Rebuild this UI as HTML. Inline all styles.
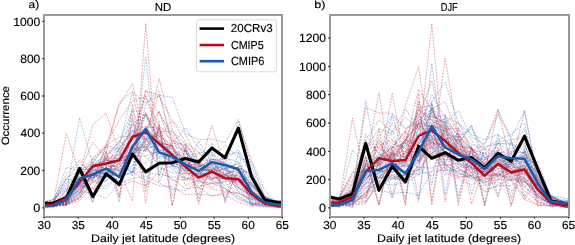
<!DOCTYPE html>
<html><head><meta charset="utf-8"><style>
html,body{margin:0;padding:0;background:#fff;}
svg{display:block;will-change:transform;}
.t{font-family:"Liberation Sans",sans-serif;font-size:11.2px;fill:#000;text-rendering:geometricPrecision;stroke:#000;stroke-width:0.15px;}
</style></head><body>
<svg width="575" height="245" viewBox="0 0 575 245">
<rect width="575" height="245" fill="#fff"/>
<clipPath id="clipa"><rect x="44.2" y="14.7" width="238.1" height="202.2"/></clipPath>
<g clip-path="url(#clipa)">
<polyline points="39.9,206.3 53.1,205.8 66.4,203.0 79.6,184.4 92.8,178.0 106.1,171.7 119.3,167.4 132.5,150.6 145.7,142.9 159.0,136.1 172.2,145.1 185.4,151.2 198.6,166.9 211.9,159.7 225.1,158.8 238.4,150.0 251.5,173.4 264.7,197.6 278.0,204.3 291.2,204.4" fill="none" stroke="#2a6fc0" stroke-width="0.9" stroke-opacity="0.42" stroke-dasharray="2.2 1"/>
<polyline points="39.9,206.3 53.1,206.3 66.4,204.8 79.6,193.1 92.8,174.7 106.1,181.3 119.3,164.7 132.5,157.3 145.7,138.8 159.0,131.8 172.2,131.3 185.4,150.0 198.6,172.2 211.9,169.0 225.1,164.7 238.4,167.9 251.5,186.0 264.7,196.5 278.0,203.7 291.2,204.8" fill="none" stroke="#2a6fc0" stroke-width="0.9" stroke-opacity="0.42" stroke-dasharray="2.2 1"/>
<polyline points="39.9,204.5 53.1,203.7 66.4,198.3 79.6,183.4 92.8,170.2 106.1,174.0 119.3,156.1 132.5,156.2 145.7,126.7 159.0,144.0 172.2,145.4 185.4,166.7 198.6,180.8 211.9,171.1 225.1,180.6 238.4,180.4 251.5,192.8 264.7,202.8 278.0,205.9 291.2,206.2" fill="none" stroke="#c42a40" stroke-width="0.9" stroke-opacity="0.42" stroke-dasharray="2.2 1"/>
<polyline points="39.9,204.5 53.1,205.0 66.4,196.7 79.6,184.1 92.8,171.1 106.1,169.0 119.3,164.5 132.5,134.6 145.7,139.0 159.0,133.6 172.2,150.9 185.4,157.4 198.6,173.3 211.9,174.4 225.1,185.8 238.4,179.0 251.5,190.5 264.7,202.1 278.0,205.5 291.2,206.2" fill="none" stroke="#c42a40" stroke-width="0.9" stroke-opacity="0.42" stroke-dasharray="2.2 1"/>
<polyline points="39.9,204.7 53.1,202.2 66.4,196.2 79.6,185.3 92.8,188.3 106.1,185.2 119.3,176.9 132.5,171.8 145.7,180.6 159.0,185.7 172.2,186.9 185.4,194.7 198.6,193.7 211.9,195.6 225.1,194.7 238.4,202.3 251.5,205.9 264.7,207.0 278.0,207.0 291.2,206.8" fill="none" stroke="#c42a40" stroke-width="0.9" stroke-opacity="0.42" stroke-dasharray="2.2 1"/>
<polyline points="39.9,207.4 53.1,205.3 66.4,205.4 79.6,172.3 92.8,202.4 106.1,157.4 119.3,201.9 132.5,119.2 145.7,187.0 159.0,126.0 172.2,196.3 185.4,149.1 198.6,197.6 211.9,143.2 225.1,201.4 238.4,152.0 251.5,203.5 264.7,200.9 278.0,207.1 291.2,204.3" fill="none" stroke="#2a6fc0" stroke-width="0.9" stroke-opacity="0.42" stroke-dasharray="2.2 1"/>
<polyline points="39.9,206.9 53.1,204.2 66.4,196.1 79.6,191.6 92.8,192.7 106.1,198.4 119.3,183.1 132.5,178.7 145.7,176.1 159.0,182.9 172.2,189.6 185.4,190.5 198.6,181.2 211.9,183.1 225.1,188.7 238.4,198.4 251.5,204.9 264.7,206.3 278.0,206.4 291.2,206.6" fill="none" stroke="#2a6fc0" stroke-width="0.9" stroke-opacity="0.42" stroke-dasharray="2.2 1"/>
<polyline points="39.9,202.6 53.1,199.7 66.4,187.1 79.6,171.5 92.8,158.4 106.1,143.9 119.3,120.1 132.5,101.0 145.7,96.2 159.0,126.8 172.2,134.3 185.4,157.4 198.6,164.7 211.9,167.7 225.1,174.9 238.4,175.5 251.5,194.5 264.7,203.4 278.0,205.0 291.2,205.3" fill="none" stroke="#c42a40" stroke-width="0.9" stroke-opacity="0.42" stroke-dasharray="2.2 1"/>
<polyline points="39.9,205.3 53.1,203.8 66.4,204.2 79.6,198.2 92.8,181.9 106.1,174.0 119.3,157.0 132.5,158.3 145.7,89.5 159.0,114.8 172.2,131.5 185.4,143.9 198.6,160.0 211.9,174.2 225.1,168.2 238.4,167.6 251.5,174.2 264.7,198.1 278.0,202.1 291.2,204.9" fill="none" stroke="#c42a40" stroke-width="0.9" stroke-opacity="0.42" stroke-dasharray="2.2 1"/>
<polyline points="39.9,206.2 53.1,205.8 66.4,202.8 79.6,173.4 92.8,178.5 106.1,167.2 119.3,183.0 132.5,154.6 145.7,138.3 159.0,156.3 172.2,156.5 185.4,165.2 198.6,179.6 211.9,169.4 225.1,165.8 238.4,170.1 251.5,192.6 264.7,202.4 278.0,205.0 291.2,205.7" fill="none" stroke="#2a6fc0" stroke-width="0.9" stroke-opacity="0.42" stroke-dasharray="2.2 1"/>
<polyline points="39.9,206.1 53.1,206.5 66.4,205.2 79.6,200.7 92.8,186.8 106.1,173.7 119.3,186.5 132.5,181.2 145.7,185.8 159.0,171.9 172.2,178.9 185.4,188.9 198.6,186.8 211.9,196.5 225.1,192.2 238.4,193.4 251.5,199.0 264.7,201.8 278.0,205.8 291.2,207.1" fill="none" stroke="#c42a40" stroke-width="0.9" stroke-opacity="0.42" stroke-dasharray="2.2 1"/>
<polyline points="39.9,205.5 53.1,203.5 66.4,196.9 79.6,185.8 92.8,175.2 106.1,167.8 119.3,170.2 132.5,156.0 145.7,141.2 159.0,131.9 172.2,166.5 185.4,177.1 198.6,186.2 211.9,183.6 225.1,181.2 238.4,182.3 251.5,197.2 264.7,204.3 278.0,206.3 291.2,206.3" fill="none" stroke="#c42a40" stroke-width="0.9" stroke-opacity="0.42" stroke-dasharray="2.2 1"/>
<polyline points="39.9,206.4 53.1,202.5 66.4,182.4 79.6,171.8 92.8,171.8 106.1,159.6 119.3,161.4 132.5,139.1 145.7,147.6 159.0,158.2 172.2,158.8 185.4,149.6 198.6,164.8 211.9,167.1 225.1,168.0 238.4,179.6 251.5,199.0 264.7,203.3 278.0,204.3 291.2,204.6" fill="none" stroke="#2a6fc0" stroke-width="0.9" stroke-opacity="0.42" stroke-dasharray="2.2 1"/>
<polyline points="39.9,206.3 53.1,203.0 66.4,189.7 79.6,179.1 92.8,174.6 106.1,178.3 119.3,147.9 132.5,130.4 145.7,138.8 159.0,160.2 172.2,169.0 185.4,179.3 198.6,170.9 211.9,178.7 225.1,174.6 238.4,184.1 251.5,197.6 264.7,203.9 278.0,205.5 291.2,205.1" fill="none" stroke="#2a6fc0" stroke-width="0.9" stroke-opacity="0.42" stroke-dasharray="2.2 1"/>
<polyline points="39.9,206.6 53.1,206.6 66.4,203.4 79.6,189.0 92.8,182.8 106.1,170.3 119.3,176.8 132.5,172.4 145.7,133.7 159.0,157.2 172.2,155.2 185.4,170.5 198.6,171.3 211.9,179.0 225.1,174.7 238.4,167.4 251.5,183.7 264.7,198.6 278.0,204.5 291.2,205.2" fill="none" stroke="#2a6fc0" stroke-width="0.9" stroke-opacity="0.42" stroke-dasharray="2.2 1"/>
<polyline points="39.9,205.2 53.1,204.5 66.4,201.8 79.6,193.9 92.8,172.7 106.1,173.2 119.3,181.6 132.5,148.6 145.7,147.3 159.0,127.7 172.2,159.1 185.4,171.5 198.6,166.2 211.9,182.4 225.1,176.7 238.4,174.9 251.5,187.4 264.7,199.2 278.0,204.9 291.2,205.9" fill="none" stroke="#c42a40" stroke-width="0.9" stroke-opacity="0.42" stroke-dasharray="2.2 1"/>
<polyline points="39.9,203.5 53.1,199.9 66.4,188.7 79.6,176.8 92.8,161.9 106.1,145.5 119.3,136.9 132.5,135.9 145.7,114.4 159.0,129.9 172.2,149.4 185.4,164.9 198.6,164.3 211.9,169.5 225.1,172.2 238.4,188.2 251.5,196.3 264.7,204.5 278.0,205.1 291.2,206.4" fill="none" stroke="#c42a40" stroke-width="0.9" stroke-opacity="0.42" stroke-dasharray="2.2 1"/>
<polyline points="39.9,207.1 53.1,202.7 66.4,205.0 79.6,171.5 92.8,202.2 106.1,151.4 119.3,197.3 132.5,115.4 145.7,203.2 159.0,121.2 172.2,205.4 185.4,147.8 198.6,200.9 211.9,163.4 225.1,199.1 238.4,171.2 251.5,205.9 264.7,201.8 278.0,207.5 291.2,205.1" fill="none" stroke="#c42a40" stroke-width="0.9" stroke-opacity="0.42" stroke-dasharray="2.2 1"/>
<polyline points="39.9,207.8 53.1,205.6 66.4,196.6 79.6,179.8 92.8,166.8 106.1,151.9 119.3,102.1 132.5,91.9 145.7,151.9 159.0,110.9 172.2,148.2 185.4,161.2 198.6,170.5 211.9,163.1 225.1,174.2 238.4,170.5 251.5,192.9 264.7,204.1 278.0,206.9 291.2,207.8" fill="none" stroke="#c42a40" stroke-width="0.9" stroke-opacity="0.42" stroke-dasharray="2.2 1"/>
<polyline points="39.9,205.0 53.1,202.1 66.4,178.7 79.6,163.2 92.8,174.0 106.1,167.6 119.3,142.2 132.5,110.0 145.7,115.5 159.0,138.5 172.2,165.2 185.4,162.7 198.6,152.2 211.9,152.8 225.1,167.5 238.4,187.4 251.5,197.3 264.7,203.2 278.0,204.3 291.2,205.1" fill="none" stroke="#2a6fc0" stroke-width="0.9" stroke-opacity="0.42" stroke-dasharray="2.2 1"/>
<polyline points="39.9,207.8 53.1,205.9 66.4,196.6 79.6,170.5 92.8,163.1 106.1,146.3 119.3,151.9 132.5,176.1 145.7,56.8 159.0,176.1 172.2,140.7 185.4,151.9 198.6,166.8 211.9,161.2 225.1,170.5 238.4,172.4 251.5,192.9 264.7,204.1 278.0,206.9 291.2,207.8" fill="none" stroke="#2a6fc0" stroke-width="0.9" stroke-opacity="0.42" stroke-dasharray="2.2 1"/>
<polyline points="39.9,204.6 53.1,204.1 66.4,200.3 79.6,188.0 92.8,175.0 106.1,161.8 119.3,149.3 132.5,131.6 145.7,126.3 159.0,128.7 172.2,140.2 185.4,146.0 198.6,173.3 211.9,178.3 225.1,170.2 238.4,180.5 251.5,185.0 264.7,198.1 278.0,203.9 291.2,206.1" fill="none" stroke="#c42a40" stroke-width="0.9" stroke-opacity="0.42" stroke-dasharray="2.2 1"/>
<polyline points="39.9,203.8 53.1,203.8 66.4,190.1 79.6,172.0 92.8,142.2 106.1,157.6 119.3,154.9 132.5,124.9 145.7,113.4 159.0,142.2 172.2,145.7 185.4,162.2 198.6,163.5 211.9,171.3 225.1,168.7 238.4,179.6 251.5,195.1 264.7,203.6 278.0,206.1 291.2,205.7" fill="none" stroke="#c42a40" stroke-width="0.9" stroke-opacity="0.42" stroke-dasharray="2.2 1"/>
<polyline points="39.9,203.1 53.1,199.7 66.4,174.3 79.6,159.9 92.8,176.3 106.1,156.1 119.3,141.5 132.5,149.9 145.7,146.0 159.0,164.6 172.2,180.5 185.4,179.2 198.6,176.4 211.9,179.9 225.1,188.8 238.4,196.4 251.5,204.1 264.7,206.4 278.0,206.3 291.2,206.1" fill="none" stroke="#c42a40" stroke-width="0.9" stroke-opacity="0.42" stroke-dasharray="2.2 1"/>
<polyline points="39.9,206.0 53.1,205.8 66.4,205.6 79.6,194.7 92.8,158.6 106.1,165.8 119.3,152.8 132.5,171.5 145.7,103.4 159.0,90.3 172.2,144.3 185.4,127.6 198.6,148.2 211.9,156.7 225.1,145.1 238.4,157.5 251.5,162.1 264.7,196.5 278.0,201.0 291.2,204.4" fill="none" stroke="#2a6fc0" stroke-width="0.9" stroke-opacity="0.42" stroke-dasharray="2.2 1"/>
<polyline points="39.9,204.7 53.1,204.3 66.4,201.7 79.6,192.8 92.8,174.6 106.1,165.5 119.3,167.1 132.5,150.1 145.7,127.6 159.0,141.1 172.2,156.5 185.4,159.2 198.6,163.4 211.9,179.1 225.1,177.8 238.4,181.8 251.5,183.2 264.7,201.0 278.0,204.7 291.2,205.8" fill="none" stroke="#c42a40" stroke-width="0.9" stroke-opacity="0.42" stroke-dasharray="2.2 1"/>
<polyline points="39.9,204.7 53.1,203.4 66.4,194.9 79.6,182.0 92.8,168.9 106.1,158.2 119.3,158.7 132.5,139.5 145.7,128.6 159.0,142.7 172.2,145.9 185.4,180.8 198.6,172.8 211.9,176.9 225.1,178.8 238.4,180.8 251.5,195.1 264.7,203.7 278.0,206.0 291.2,205.6" fill="none" stroke="#c42a40" stroke-width="0.9" stroke-opacity="0.42" stroke-dasharray="2.2 1"/>
<polyline points="39.9,204.1 53.1,204.6 66.4,203.2 79.6,197.5 92.8,179.8 106.1,146.7 119.3,164.5 132.5,134.7 145.7,129.5 159.0,111.9 172.2,137.4 185.4,166.9 198.6,167.0 211.9,172.6 225.1,174.7 238.4,181.1 251.5,176.0 264.7,198.1 278.0,204.3 291.2,206.0" fill="none" stroke="#c42a40" stroke-width="0.9" stroke-opacity="0.42" stroke-dasharray="2.2 1"/>
<polyline points="39.9,204.4 53.1,205.8 66.4,204.5 79.6,198.5 92.8,181.7 106.1,181.7 119.3,161.0 132.5,156.4 145.7,156.1 159.0,151.2 172.2,158.6 185.4,162.1 198.6,168.9 211.9,171.0 225.1,177.5 238.4,178.7 251.5,183.3 264.7,198.1 278.0,203.8 291.2,205.9" fill="none" stroke="#c42a40" stroke-width="0.9" stroke-opacity="0.42" stroke-dasharray="2.2 1"/>
<polyline points="39.9,205.0 53.1,204.2 66.4,197.9 79.6,184.2 92.8,164.0 106.1,169.3 119.3,170.8 132.5,138.7 145.7,133.8 159.0,151.9 172.2,165.6 185.4,169.3 198.6,189.1 211.9,171.9 225.1,179.1 238.4,187.7 251.5,195.1 264.7,204.4 278.0,206.0 291.2,206.6" fill="none" stroke="#c42a40" stroke-width="0.9" stroke-opacity="0.42" stroke-dasharray="2.2 1"/>
<polyline points="39.9,206.4 53.1,206.0 66.4,203.7 79.6,192.8 92.8,169.7 106.1,175.9 119.3,165.0 132.5,172.6 145.7,147.7 159.0,145.8 172.2,149.2 185.4,164.8 198.6,165.5 211.9,174.1 225.1,154.6 238.4,152.5 251.5,174.7 264.7,196.5 278.0,202.7 291.2,203.7" fill="none" stroke="#2a6fc0" stroke-width="0.9" stroke-opacity="0.42" stroke-dasharray="2.2 1"/>
<polyline points="39.9,202.6 53.1,202.1 66.4,177.7 79.6,170.5 92.8,181.4 106.1,145.2 119.3,149.2 132.5,146.6 145.7,156.7 159.0,170.6 172.2,165.7 185.4,174.2 198.6,170.2 211.9,170.1 225.1,188.2 238.4,199.5 251.5,203.8 264.7,205.2 278.0,205.3 291.2,205.3" fill="none" stroke="#2a6fc0" stroke-width="0.9" stroke-opacity="0.42" stroke-dasharray="2.2 1"/>
<polyline points="39.9,207.6 53.1,203.1 66.4,204.9 79.6,172.4 92.8,196.1 106.1,151.2 119.3,197.0 132.5,104.2 145.7,192.4 159.0,125.1 172.2,206.1 185.4,144.9 198.6,204.4 211.9,152.3 225.1,202.7 238.4,166.4 251.5,205.0 264.7,201.1 278.0,207.5 291.2,205.1" fill="none" stroke="#c42a40" stroke-width="0.9" stroke-opacity="0.42" stroke-dasharray="2.2 1"/>
<polyline points="39.9,206.3 53.1,206.3 66.4,202.4 79.6,180.7 92.8,177.7 106.1,169.2 119.3,184.6 132.5,153.9 145.7,144.4 159.0,148.8 172.2,165.1 185.4,171.3 198.6,176.8 211.9,158.9 225.1,168.7 238.4,176.5 251.5,193.7 264.7,202.9 278.0,204.2 291.2,205.9" fill="none" stroke="#2a6fc0" stroke-width="0.9" stroke-opacity="0.42" stroke-dasharray="2.2 1"/>
<polyline points="39.9,205.3 53.1,205.0 66.4,200.4 79.6,183.6 92.8,177.1 106.1,171.0 119.3,160.4 132.5,159.1 145.7,145.4 159.0,139.6 172.2,153.6 185.4,167.7 198.6,174.9 211.9,188.1 225.1,175.3 238.4,185.7 251.5,195.0 264.7,201.0 278.0,205.2 291.2,206.3" fill="none" stroke="#c42a40" stroke-width="0.9" stroke-opacity="0.42" stroke-dasharray="2.2 1"/>
<polyline points="39.9,207.8 53.1,205.6 66.4,192.9 79.6,117.8 92.8,164.9 106.1,155.6 119.3,146.3 132.5,91.9 145.7,103.4 159.0,95.6 172.2,97.1 185.4,133.2 198.6,140.0 211.9,139.0 225.1,142.6 238.4,119.4 251.5,166.8 264.7,196.6 278.0,206.3 291.2,207.8" fill="none" stroke="#2a6fc0" stroke-width="0.9" stroke-opacity="0.42" stroke-dasharray="2.2 1"/>
<polyline points="39.9,206.6 53.1,206.5 66.4,203.4 79.6,195.9 92.8,175.2 106.1,176.8 119.3,170.9 132.5,165.9 145.7,139.0 159.0,135.4 172.2,165.6 185.4,161.8 198.6,170.4 211.9,169.9 225.1,159.1 238.4,171.9 251.5,183.0 264.7,197.9 278.0,203.9 291.2,204.8" fill="none" stroke="#2a6fc0" stroke-width="0.9" stroke-opacity="0.42" stroke-dasharray="2.2 1"/>
<polyline points="39.9,204.5 53.1,205.7 66.4,201.8 79.6,189.6 92.8,178.9 106.1,158.0 119.3,172.7 132.5,149.4 145.7,150.6 159.0,130.2 172.2,155.6 185.4,168.1 198.6,183.3 211.9,168.5 225.1,174.8 238.4,178.2 251.5,186.1 264.7,199.8 278.0,205.4 291.2,206.3" fill="none" stroke="#c42a40" stroke-width="0.9" stroke-opacity="0.42" stroke-dasharray="2.2 1"/>
<polyline points="39.9,206.4 53.1,206.1 66.4,203.0 79.6,191.7 92.8,173.3 106.1,177.6 119.3,173.9 132.5,151.4 145.7,149.8 159.0,143.5 172.2,167.0 185.4,165.3 198.6,176.7 211.9,169.7 225.1,168.2 238.4,167.6 251.5,174.8 264.7,197.2 278.0,203.4 291.2,205.0" fill="none" stroke="#2a6fc0" stroke-width="0.9" stroke-opacity="0.42" stroke-dasharray="2.2 1"/>
<polyline points="39.9,206.4 53.1,206.0 66.4,201.4 79.6,187.5 92.8,176.1 106.1,173.9 119.3,168.1 132.5,171.5 145.7,162.8 159.0,144.2 172.2,161.0 185.4,144.0 198.6,165.3 211.9,171.6 225.1,169.4 238.4,162.5 251.5,182.0 264.7,197.3 278.0,203.5 291.2,204.8" fill="none" stroke="#2a6fc0" stroke-width="0.9" stroke-opacity="0.42" stroke-dasharray="2.2 1"/>
<polyline points="39.9,204.4 53.1,204.9 66.4,204.7 79.6,197.5 92.8,169.9 106.1,165.2 119.3,159.6 132.5,153.1 145.7,133.4 159.0,94.1 172.2,143.7 185.4,144.0 198.6,161.9 211.9,171.7 225.1,175.6 238.4,166.1 251.5,177.6 264.7,198.1 278.0,203.4 291.2,206.0" fill="none" stroke="#c42a40" stroke-width="0.9" stroke-opacity="0.42" stroke-dasharray="2.2 1"/>
<polyline points="39.9,207.0 53.1,205.5 66.4,190.4 79.6,186.4 92.8,188.9 106.1,188.2 119.3,177.1 132.5,172.3 145.7,172.1 159.0,174.5 172.2,176.9 185.4,177.6 198.6,181.8 211.9,183.8 225.1,181.9 238.4,195.7 251.5,203.8 264.7,205.0 278.0,206.2 291.2,206.1" fill="none" stroke="#2a6fc0" stroke-width="0.9" stroke-opacity="0.42" stroke-dasharray="2.2 1"/>
<polyline points="39.9,206.3 53.1,205.9 66.4,200.3 79.6,185.7 92.8,162.2 106.1,169.4 119.3,173.5 132.5,149.6 145.7,114.0 159.0,144.2 172.2,152.2 185.4,168.5 198.6,167.7 211.9,159.1 225.1,162.8 238.4,169.4 251.5,185.2 264.7,196.5 278.0,203.0 291.2,204.5" fill="none" stroke="#2a6fc0" stroke-width="0.9" stroke-opacity="0.42" stroke-dasharray="2.2 1"/>
<polyline points="39.9,207.8 53.1,205.0 66.4,194.8 79.6,178.0 92.8,159.3 106.1,146.3 119.3,105.3 132.5,83.3 145.7,142.6 159.0,78.4 172.2,129.5 185.4,151.9 198.6,168.7 211.9,125.6 225.1,166.8 238.4,178.0 251.5,196.6 264.7,204.1 278.0,206.9 291.2,207.8" fill="none" stroke="#c42a40" stroke-width="0.9" stroke-opacity="0.42" stroke-dasharray="2.2 1"/>
<polyline points="39.9,206.2 53.1,205.5 66.4,195.8 79.6,169.9 92.8,168.7 106.1,158.9 119.3,178.1 132.5,141.7 145.7,127.9 159.0,146.4 172.2,147.2 185.4,172.6 198.6,141.0 211.9,163.4 225.1,158.0 238.4,161.8 251.5,188.8 264.7,201.9 278.0,205.7 291.2,205.2" fill="none" stroke="#2a6fc0" stroke-width="0.9" stroke-opacity="0.42" stroke-dasharray="2.2 1"/>
<polyline points="39.9,207.8 53.1,206.3 66.4,200.3 79.6,185.4 92.8,179.8 106.1,159.3 119.3,170.5 132.5,201.3 145.7,23.3 159.0,182.3 172.2,151.9 185.4,185.4 198.6,179.8 211.9,189.2 225.1,191.0 238.4,192.9 251.5,200.3 264.7,205.9 278.0,207.8 291.2,207.8" fill="none" stroke="#c42a40" stroke-width="0.9" stroke-opacity="0.42" stroke-dasharray="2.2 1"/>
<polyline points="39.9,205.6 53.1,202.1 66.4,183.9 79.6,177.7 92.8,177.2 106.1,177.2 119.3,156.9 132.5,110.1 145.7,144.8 159.0,167.5 172.2,172.6 185.4,173.5 198.6,173.8 211.9,165.4 225.1,169.2 238.4,192.4 251.5,202.3 264.7,204.4 278.0,204.3 291.2,204.3" fill="none" stroke="#2a6fc0" stroke-width="0.9" stroke-opacity="0.42" stroke-dasharray="2.2 1"/>
<polyline points="39.9,204.4 53.1,203.9 66.4,202.0 79.6,189.8 92.8,165.4 106.1,160.4 119.3,160.8 132.5,137.7 145.7,90.8 159.0,95.7 172.2,120.5 185.4,142.1 198.6,152.0 211.9,166.9 225.1,154.0 238.4,172.3 251.5,171.7 264.7,198.1 278.0,202.1 291.2,205.3" fill="none" stroke="#c42a40" stroke-width="0.9" stroke-opacity="0.42" stroke-dasharray="2.2 1"/>
<polyline points="39.9,207.8 53.1,204.1 66.4,133.1 79.6,174.2 92.8,124.7 106.1,113.1 119.3,151.9 132.5,137.0 145.7,96.0 159.0,137.0 172.2,120.6 185.4,134.2 198.6,161.2 211.9,159.3 225.1,163.1 238.4,121.1 251.5,160.3 264.7,190.1 278.0,205.9 291.2,207.8" fill="none" stroke="#c42a40" stroke-width="0.9" stroke-opacity="0.42" stroke-dasharray="2.2 1"/>
<polyline points="39.9,206.0 53.1,206.1 66.4,201.3 79.6,183.7 92.8,170.1 106.1,169.6 119.3,163.1 132.5,155.2 145.7,114.4 159.0,151.6 172.2,145.2 185.4,168.2 198.6,175.4 211.9,160.8 225.1,167.8 238.4,163.6 251.5,186.3 264.7,196.5 278.0,203.8 291.2,205.3" fill="none" stroke="#2a6fc0" stroke-width="0.9" stroke-opacity="0.42" stroke-dasharray="2.2 1"/>
<polyline points="39.9,206.4 53.1,202.1 66.4,179.0 79.6,181.9 92.8,168.4 106.1,174.7 119.3,148.3 132.5,129.8 145.7,151.0 159.0,153.6 172.2,161.1 185.4,169.4 198.6,174.4 211.9,179.8 225.1,172.5 238.4,191.2 251.5,199.7 264.7,203.8 278.0,204.8 291.2,205.1" fill="none" stroke="#2a6fc0" stroke-width="0.9" stroke-opacity="0.42" stroke-dasharray="2.2 1"/>
<polyline points="39.9,205.1 53.1,202.1 66.4,167.3 79.6,170.5 92.8,167.9 106.1,156.8 119.3,141.1 132.5,124.6 145.7,138.8 159.0,148.7 172.2,158.1 185.4,166.6 198.6,153.0 211.9,163.8 225.1,165.2 238.4,187.2 251.5,203.2 264.7,205.4 278.0,204.8 291.2,204.4" fill="none" stroke="#2a6fc0" stroke-width="0.9" stroke-opacity="0.42" stroke-dasharray="2.2 1"/>
<polyline points="39.9,204.1 53.1,202.8 66.4,200.0 79.6,188.9 92.8,164.5 106.1,163.6 119.3,155.4 132.5,138.8 145.7,112.3 159.0,140.6 172.2,146.9 185.4,174.2 198.6,175.3 211.9,161.4 225.1,176.5 238.4,179.5 251.5,190.4 264.7,198.6 278.0,204.8 291.2,206.2" fill="none" stroke="#c42a40" stroke-width="0.9" stroke-opacity="0.42" stroke-dasharray="2.2 1"/>
<polyline points="39.9,203.3 53.1,203.3 66.4,197.8 79.6,168.3 92.8,196.7 106.1,173.7 119.3,184.5 132.5,153.9 145.7,171.9 159.0,163.3 172.2,162.8 185.4,158.5 198.6,162.1 211.9,148.0 225.1,157.7 238.4,128.1 251.5,176.5 264.7,200.3 278.0,202.2 291.2,202.5" fill="none" stroke="#000" stroke-width="3.1" stroke-linejoin="round"/>
<polyline points="39.9,204.7 53.1,204.5 66.4,197.8 79.6,182.0 92.8,166.2 106.1,163.5 119.3,160.3 132.5,136.8 145.7,132.1 159.0,143.5 172.2,155.0 185.4,166.5 198.6,177.6 211.9,171.6 225.1,178.2 238.4,179.1 251.5,194.0 264.7,203.5 278.0,206.0 291.2,206.0" fill="none" stroke="#b00c24" stroke-width="2.45" stroke-linejoin="round"/>
<polyline points="39.9,206.3 53.1,206.0 66.4,199.8 79.6,178.8 92.8,174.5 106.1,168.6 119.3,177.0 132.5,146.5 145.7,128.9 159.0,152.4 172.2,156.6 185.4,164.3 198.6,171.0 211.9,162.1 225.1,165.0 238.4,169.4 251.5,191.9 264.7,202.5 278.0,204.8 291.2,205.0" fill="none" stroke="#1a5aaa" stroke-width="2.5" stroke-linejoin="round"/>
</g>
<path d="M43,15 H283 M43,217 H283 M44,14 V218 M282,14 V218" fill="none" stroke="#9a9a9a" stroke-width="2"/>
<line x1="44.2" y1="217" x2="44.2" y2="218.6" stroke="#333" stroke-width="1.3"/>
<text x="37.60" y="229.30" textLength="13.20" lengthAdjust="spacingAndGlyphs" class="t" style="font-size:11.56px">30</text>
<line x1="78.2" y1="217" x2="78.2" y2="218.6" stroke="#333" stroke-width="1.3"/>
<text x="71.69" y="229.30" textLength="13.20" lengthAdjust="spacingAndGlyphs" class="t" style="font-size:11.56px">35</text>
<line x1="112.2" y1="217" x2="112.2" y2="218.6" stroke="#333" stroke-width="1.3"/>
<text x="105.77" y="229.30" textLength="12.95" lengthAdjust="spacingAndGlyphs" class="t" style="font-size:11.56px">40</text>
<line x1="146.2" y1="217" x2="146.2" y2="218.6" stroke="#333" stroke-width="1.3"/>
<text x="139.86" y="229.30" textLength="12.95" lengthAdjust="spacingAndGlyphs" class="t" style="font-size:11.56px">45</text>
<line x1="180.3" y1="217" x2="180.3" y2="218.6" stroke="#333" stroke-width="1.3"/>
<text x="173.69" y="229.30" textLength="13.20" lengthAdjust="spacingAndGlyphs" class="t" style="font-size:11.56px">50</text>
<line x1="214.3" y1="217" x2="214.3" y2="218.6" stroke="#333" stroke-width="1.3"/>
<text x="207.78" y="229.30" textLength="13.20" lengthAdjust="spacingAndGlyphs" class="t" style="font-size:11.56px">55</text>
<line x1="248.3" y1="217" x2="248.3" y2="218.6" stroke="#333" stroke-width="1.3"/>
<text x="241.61" y="229.30" textLength="13.20" lengthAdjust="spacingAndGlyphs" class="t" style="font-size:11.56px">60</text>
<line x1="282.3" y1="217" x2="282.3" y2="218.6" stroke="#333" stroke-width="1.3"/>
<text x="275.70" y="229.30" textLength="13.20" lengthAdjust="spacingAndGlyphs" class="t" style="font-size:11.56px">65</text>
<line x1="42.2" y1="207.8" x2="44" y2="207.8" stroke="#333" stroke-width="1.3"/>
<text x="33.30" y="212.00" textLength="7.00" lengthAdjust="spacingAndGlyphs" class="t" style="font-size:11.93px">0</text>
<line x1="42.2" y1="170.5" x2="44" y2="170.5" stroke="#333" stroke-width="1.3"/>
<text x="20.30" y="174.82" textLength="20.00" lengthAdjust="spacingAndGlyphs" class="t" style="font-size:11.93px">200</text>
<line x1="42.2" y1="133.2" x2="44" y2="133.2" stroke="#333" stroke-width="1.3"/>
<text x="20.55" y="137.39" textLength="19.75" lengthAdjust="spacingAndGlyphs" class="t" style="font-size:11.93px">400</text>
<line x1="42.2" y1="96.0" x2="44" y2="96.0" stroke="#333" stroke-width="1.3"/>
<text x="20.30" y="100.21" textLength="20.00" lengthAdjust="spacingAndGlyphs" class="t" style="font-size:11.93px">600</text>
<line x1="42.2" y1="58.7" x2="44" y2="58.7" stroke="#333" stroke-width="1.3"/>
<text x="20.30" y="62.78" textLength="20.00" lengthAdjust="spacingAndGlyphs" class="t" style="font-size:11.93px">800</text>
<line x1="42.2" y1="21.4" x2="44" y2="21.4" stroke="#333" stroke-width="1.3"/>
<text x="13.30" y="25.60" textLength="27.00" lengthAdjust="spacingAndGlyphs" class="t" style="font-size:11.93px">1000</text>
<clipPath id="clipb"><rect x="329.8" y="14.7" width="238.8" height="202.2"/></clipPath>
<g clip-path="url(#clipb)">
<polyline points="326.0,201.1 339.2,203.0 352.5,197.1 365.7,177.7 378.9,142.7 392.2,160.9 405.4,162.9 418.6,128.5 431.8,142.4 445.1,133.1 458.3,148.4 471.5,158.6 484.7,174.9 498.0,165.1 511.2,154.1 524.5,161.7 537.6,172.4 550.8,197.2 564.1,202.3 577.3,204.9" fill="none" stroke="#c42a40" stroke-width="0.9" stroke-opacity="0.42" stroke-dasharray="2.2 1"/>
<polyline points="326.0,205.0 339.2,205.5 352.5,200.5 365.7,167.1 378.9,160.8 392.2,169.0 405.4,171.0 418.6,155.7 431.8,128.7 445.1,144.7 458.3,155.9 471.5,158.4 484.7,171.5 498.0,165.2 511.2,162.0 524.5,160.9 537.6,178.4 550.8,200.1 564.1,202.9 577.3,202.5" fill="none" stroke="#2a6fc0" stroke-width="0.9" stroke-opacity="0.42" stroke-dasharray="2.2 1"/>
<polyline points="326.0,204.9 339.2,204.3 352.5,197.4 365.7,165.8 378.9,170.6 392.2,172.6 405.4,158.3 418.6,160.6 431.8,132.5 445.1,156.5 458.3,156.2 471.5,158.2 484.7,173.1 498.0,159.2 511.2,161.1 524.5,170.8 537.6,182.5 550.8,201.8 564.1,203.4 577.3,203.6" fill="none" stroke="#2a6fc0" stroke-width="0.9" stroke-opacity="0.42" stroke-dasharray="2.2 1"/>
<polyline points="326.0,202.7 339.2,202.2 352.5,191.1 365.7,180.4 378.9,160.0 392.2,154.7 405.4,154.0 418.6,140.5 431.8,131.9 445.1,155.9 458.3,165.2 471.5,171.1 484.7,176.5 498.0,162.5 511.2,178.9 524.5,170.8 537.6,196.5 550.8,204.0 564.1,205.7 577.3,205.2" fill="none" stroke="#c42a40" stroke-width="0.9" stroke-opacity="0.42" stroke-dasharray="2.2 1"/>
<polyline points="326.0,201.5 339.2,200.8 352.5,196.4 365.7,171.9 378.9,139.1 392.2,155.4 405.4,157.5 418.6,107.8 431.8,105.2 445.1,156.2 458.3,147.0 471.5,148.0 484.7,164.4 498.0,160.9 511.2,154.4 524.5,168.2 537.6,186.1 550.8,201.0 564.1,205.0 577.3,204.7" fill="none" stroke="#c42a40" stroke-width="0.9" stroke-opacity="0.42" stroke-dasharray="2.2 1"/>
<polyline points="326.0,207.8 339.2,205.0 352.5,195.1 365.7,171.1 378.9,154.1 392.2,158.3 405.4,144.2 418.6,89.4 431.8,108.9 445.1,101.8 458.3,134.3 471.5,148.4 484.7,165.4 498.0,158.3 511.2,168.2 524.5,165.4 537.6,189.4 550.8,202.9 564.1,206.4 577.3,207.8" fill="none" stroke="#c42a40" stroke-width="0.9" stroke-opacity="0.42" stroke-dasharray="2.2 1"/>
<polyline points="326.0,204.7 339.2,204.0 352.5,194.4 365.7,158.1 378.9,163.2 392.2,155.3 405.4,155.9 418.6,157.6 431.8,107.9 445.1,148.8 458.3,132.8 471.5,157.3 484.7,163.5 498.0,158.5 511.2,151.2 524.5,146.1 537.6,172.4 550.8,202.0 564.1,202.7 577.3,199.2" fill="none" stroke="#2a6fc0" stroke-width="0.9" stroke-opacity="0.42" stroke-dasharray="2.2 1"/>
<polyline points="326.0,202.8 339.2,203.1 352.5,201.1 365.7,184.1 378.9,163.9 392.2,169.7 405.4,151.1 418.6,162.6 431.8,145.3 445.1,134.8 458.3,161.7 471.5,173.1 484.7,182.8 498.0,175.8 511.2,165.9 524.5,172.5 537.6,185.3 550.8,200.8 564.1,204.7 577.3,205.7" fill="none" stroke="#c42a40" stroke-width="0.9" stroke-opacity="0.42" stroke-dasharray="2.2 1"/>
<polyline points="326.0,202.5 339.2,197.4 352.5,180.0 365.7,156.7 378.9,146.6 392.2,160.7 405.4,140.5 418.6,123.3 431.8,143.1 445.1,144.2 458.3,150.6 471.5,173.8 484.7,162.7 498.0,161.0 511.2,162.3 524.5,181.3 537.6,194.9 550.8,202.7 564.1,205.1 577.3,205.7" fill="none" stroke="#c42a40" stroke-width="0.9" stroke-opacity="0.42" stroke-dasharray="2.2 1"/>
<polyline points="326.0,205.0 339.2,205.7 352.5,203.6 365.7,194.5 378.9,177.6 392.2,151.8 405.4,162.6 418.6,175.4 431.8,157.6 445.1,128.7 458.3,155.9 471.5,151.8 484.7,167.5 498.0,166.5 511.2,155.6 524.5,166.5 537.6,178.2 550.8,195.6 564.1,202.7 577.3,203.2" fill="none" stroke="#2a6fc0" stroke-width="0.9" stroke-opacity="0.42" stroke-dasharray="2.2 1"/>
<polyline points="326.0,207.8 339.2,205.0 352.5,195.1 365.7,162.6 378.9,156.9 392.2,148.4 405.4,142.8 418.6,171.1 431.8,63.4 445.1,165.4 458.3,128.7 471.5,148.4 484.7,161.2 498.0,165.4 511.2,164.0 524.5,162.6 537.6,188.0 550.8,203.6 564.1,206.4 577.3,207.8" fill="none" stroke="#2a6fc0" stroke-width="0.9" stroke-opacity="0.42" stroke-dasharray="2.2 1"/>
<polyline points="326.0,207.2 339.2,203.7 352.5,207.5 365.7,158.2 378.9,205.6 392.2,151.8 405.4,198.8 418.6,123.1 431.8,185.1 445.1,114.5 458.3,201.7 471.5,145.7 484.7,203.2 498.0,134.1 511.2,199.1 524.5,147.8 537.6,200.6 550.8,199.9 564.1,207.0 577.3,201.7" fill="none" stroke="#2a6fc0" stroke-width="0.9" stroke-opacity="0.42" stroke-dasharray="2.2 1"/>
<polyline points="326.0,204.6 339.2,205.3 352.5,203.2 365.7,186.8 378.9,186.8 392.2,175.1 405.4,183.6 418.6,164.7 431.8,142.0 445.1,150.7 458.3,177.2 471.5,175.2 484.7,192.2 498.0,185.6 511.2,185.4 524.5,178.6 537.6,197.4 550.8,203.8 564.1,206.3 577.3,206.8" fill="none" stroke="#c42a40" stroke-width="0.9" stroke-opacity="0.42" stroke-dasharray="2.2 1"/>
<polyline points="326.0,204.1 339.2,207.1 352.5,195.6 365.7,197.4 378.9,161.9 392.2,198.5 405.4,154.8 418.6,202.0 431.8,101.1 445.1,195.0 458.3,127.6 471.5,194.8 484.7,148.3 498.0,195.9 511.2,139.4 524.5,196.8 537.6,171.3 550.8,207.1 564.1,200.9 577.3,207.3" fill="none" stroke="#2a6fc0" stroke-width="0.9" stroke-opacity="0.42" stroke-dasharray="2.2 1"/>
<polyline points="326.0,207.8 339.2,203.6 352.5,190.8 365.7,165.4 378.9,92.6 392.2,172.5 405.4,151.3 418.6,137.1 431.8,123.0 445.1,137.1 458.3,151.3 471.5,158.3 484.7,168.2 498.0,165.4 511.2,171.1 524.5,168.2 537.6,190.8 550.8,203.6 564.1,206.7 577.3,207.8" fill="none" stroke="#c42a40" stroke-width="0.9" stroke-opacity="0.42" stroke-dasharray="2.2 1"/>
<polyline points="326.0,206.4 339.2,204.4 352.5,196.7 365.7,182.4 378.9,184.8 392.2,179.0 405.4,178.9 418.6,169.3 431.8,175.9 445.1,166.1 458.3,171.5 471.5,179.2 484.7,180.0 498.0,175.9 511.2,176.4 524.5,187.5 537.6,196.7 550.8,204.0 564.1,205.2 577.3,205.4" fill="none" stroke="#2a6fc0" stroke-width="0.9" stroke-opacity="0.42" stroke-dasharray="2.2 1"/>
<polyline points="326.0,203.2 339.2,198.9 352.5,189.8 365.7,173.6 378.9,161.7 392.2,145.9 405.4,160.2 418.6,123.1 431.8,126.1 445.1,125.8 458.3,149.9 471.5,168.2 484.7,168.6 498.0,165.0 511.2,164.7 524.5,174.4 537.6,186.8 550.8,203.3 564.1,205.3 577.3,205.7" fill="none" stroke="#c42a40" stroke-width="0.9" stroke-opacity="0.42" stroke-dasharray="2.2 1"/>
<polyline points="326.0,207.8 339.2,203.6 352.5,185.2 365.7,148.4 378.9,128.7 392.2,134.3 405.4,117.3 418.6,128.7 431.8,108.9 445.1,140.0 458.3,134.3 471.5,151.3 484.7,144.2 498.0,109.4 511.2,140.0 524.5,137.1 537.6,182.4 550.8,202.1 564.1,206.7 577.3,207.8" fill="none" stroke="#c42a40" stroke-width="0.9" stroke-opacity="0.42" stroke-dasharray="2.2 1"/>
<polyline points="326.0,205.2 339.2,206.2 352.5,198.4 365.7,175.0 378.9,181.6 392.2,161.5 405.4,180.6 418.6,166.3 431.8,131.1 445.1,152.1 458.3,164.9 471.5,166.3 484.7,180.4 498.0,172.3 511.2,158.1 524.5,155.8 537.6,185.1 550.8,202.0 564.1,203.9 577.3,203.7" fill="none" stroke="#2a6fc0" stroke-width="0.9" stroke-opacity="0.42" stroke-dasharray="2.2 1"/>
<polyline points="326.0,207.8 339.2,205.7 352.5,193.7 365.7,165.4 378.9,148.4 392.2,156.9 405.4,106.0 418.6,66.5 431.8,158.3 445.1,58.0 458.3,137.1 471.5,148.4 484.7,165.4 498.0,165.4 511.2,172.5 524.5,171.1 537.6,190.8 550.8,203.6 564.1,206.7 577.3,207.8" fill="none" stroke="#c42a40" stroke-width="0.9" stroke-opacity="0.42" stroke-dasharray="2.2 1"/>
<polyline points="326.0,205.7 339.2,205.9 352.5,202.9 365.7,177.2 378.9,184.3 392.2,178.3 405.4,175.6 418.6,155.1 431.8,140.2 445.1,168.4 458.3,173.4 471.5,176.8 484.7,183.7 498.0,172.9 511.2,163.1 524.5,170.5 537.6,190.7 550.8,203.0 564.1,204.8 577.3,203.5" fill="none" stroke="#2a6fc0" stroke-width="0.9" stroke-opacity="0.42" stroke-dasharray="2.2 1"/>
<polyline points="326.0,200.9 339.2,197.4 352.5,173.1 365.7,151.5 378.9,160.5 392.2,157.3 405.4,139.5 418.6,124.0 431.8,138.1 445.1,152.5 458.3,168.3 471.5,175.5 484.7,159.4 498.0,161.7 511.2,169.4 524.5,184.9 537.6,202.5 550.8,205.8 564.1,205.1 577.3,205.7" fill="none" stroke="#c42a40" stroke-width="0.9" stroke-opacity="0.42" stroke-dasharray="2.2 1"/>
<polyline points="326.0,207.8 339.2,205.0 352.5,199.3 365.7,172.5 378.9,161.2 392.2,154.1 405.4,140.0 418.6,145.0 431.8,23.4 445.1,171.1 458.3,140.0 471.5,162.6 484.7,178.1 498.0,173.9 511.2,180.9 524.5,176.7 537.6,195.1 550.8,205.0 564.1,207.1 577.3,207.8" fill="none" stroke="#c42a40" stroke-width="0.9" stroke-opacity="0.42" stroke-dasharray="2.2 1"/>
<polyline points="326.0,202.7 339.2,202.7 352.5,201.7 365.7,201.3 378.9,184.0 392.2,158.1 405.4,160.0 418.6,160.4 431.8,139.6 445.1,139.0 458.3,139.3 471.5,160.6 484.7,172.2 498.0,163.4 511.2,173.3 524.5,173.8 537.6,161.0 550.8,197.2 564.1,202.0 577.3,204.8" fill="none" stroke="#c42a40" stroke-width="0.9" stroke-opacity="0.42" stroke-dasharray="2.2 1"/>
<polyline points="326.0,206.5 339.2,206.5 352.5,205.5 365.7,192.0 378.9,189.8 392.2,193.5 405.4,192.1 418.6,195.2 431.8,171.1 445.1,170.1 458.3,170.6 471.5,172.2 484.7,190.7 498.0,184.7 511.2,179.4 524.5,181.2 537.6,192.8 550.8,199.8 564.1,205.0 577.3,204.9" fill="none" stroke="#2a6fc0" stroke-width="0.9" stroke-opacity="0.42" stroke-dasharray="2.2 1"/>
<polyline points="326.0,207.8 339.2,204.3 352.5,190.8 365.7,100.8 378.9,171.1 392.2,114.0 405.4,162.6 418.6,100.8 431.8,137.1 445.1,117.3 458.3,144.2 471.5,125.3 484.7,165.4 498.0,154.1 511.2,169.6 524.5,151.3 537.6,185.2 550.8,202.1 564.1,206.7 577.3,207.8" fill="none" stroke="#2a6fc0" stroke-width="0.9" stroke-opacity="0.42" stroke-dasharray="2.2 1"/>
<polyline points="326.0,207.8 339.2,203.6 352.5,118.1 365.7,179.5 378.9,165.4 392.2,144.2 405.4,148.4 418.6,117.3 431.8,80.6 445.1,137.1 458.3,151.3 471.5,158.3 484.7,172.5 498.0,109.4 511.2,165.4 524.5,110.6 537.6,179.5 550.8,199.3 564.1,206.4 577.3,207.8" fill="none" stroke="#c42a40" stroke-width="0.9" stroke-opacity="0.42" stroke-dasharray="2.2 1"/>
<polyline points="326.0,202.4 339.2,197.4 352.5,175.8 365.7,168.9 378.9,177.5 392.2,165.2 405.4,139.8 418.6,145.2 431.8,153.7 445.1,172.6 458.3,178.9 471.5,185.2 484.7,174.9 498.0,174.1 511.2,180.1 524.5,196.0 537.6,204.9 550.8,205.9 564.1,206.1 577.3,206.5" fill="none" stroke="#c42a40" stroke-width="0.9" stroke-opacity="0.42" stroke-dasharray="2.2 1"/>
<polyline points="326.0,203.1 339.2,203.0 352.5,198.5 365.7,183.2 378.9,171.9 392.2,167.8 405.4,153.5 418.6,150.8 431.8,137.7 445.1,147.2 458.3,154.4 471.5,162.8 484.7,176.2 498.0,173.3 511.2,178.4 524.5,179.0 537.6,184.7 550.8,198.6 564.1,204.5 577.3,205.8" fill="none" stroke="#c42a40" stroke-width="0.9" stroke-opacity="0.42" stroke-dasharray="2.2 1"/>
<polyline points="326.0,202.9 339.2,201.2 352.5,149.7 365.7,165.2 378.9,156.0 392.2,147.1 405.4,131.3 418.6,114.1 431.8,136.8 445.1,151.9 458.3,146.5 471.5,149.0 484.7,153.7 498.0,141.3 511.2,140.6 524.5,180.7 537.6,198.7 550.8,202.0 564.1,199.9 577.3,202.2" fill="none" stroke="#2a6fc0" stroke-width="0.9" stroke-opacity="0.42" stroke-dasharray="2.2 1"/>
<polyline points="326.0,205.1 339.2,205.0 352.5,201.4 365.7,164.5 378.9,163.3 392.2,130.1 405.4,171.1 418.6,156.2 431.8,107.4 445.1,123.4 458.3,145.4 471.5,165.1 484.7,146.5 498.0,143.7 511.2,144.3 524.5,154.5 537.6,168.6 550.8,196.9 564.1,201.7 577.3,202.2" fill="none" stroke="#2a6fc0" stroke-width="0.9" stroke-opacity="0.42" stroke-dasharray="2.2 1"/>
<polyline points="326.0,204.3 339.2,204.6 352.5,198.3 365.7,174.0 378.9,178.6 392.2,160.2 405.4,178.4 418.6,152.3 431.8,103.7 445.1,141.9 458.3,153.7 471.5,162.7 484.7,166.3 498.0,152.7 511.2,165.1 524.5,150.8 537.6,183.7 550.8,199.6 564.1,202.8 577.3,201.6" fill="none" stroke="#2a6fc0" stroke-width="0.9" stroke-opacity="0.42" stroke-dasharray="2.2 1"/>
<polyline points="326.0,205.0 339.2,204.4 352.5,201.1 365.7,181.2 378.9,156.7 392.2,161.1 405.4,172.0 418.6,153.3 431.8,127.4 445.1,130.5 458.3,142.4 471.5,125.5 484.7,157.9 498.0,152.4 511.2,153.6 524.5,139.9 537.6,168.7 550.8,195.6 564.1,202.8 577.3,202.0" fill="none" stroke="#2a6fc0" stroke-width="0.9" stroke-opacity="0.42" stroke-dasharray="2.2 1"/>
<polyline points="326.0,207.8 339.2,205.0 352.5,190.8 365.7,134.3 378.9,154.1 392.2,123.0 405.4,140.0 418.6,108.9 431.8,120.2 445.1,128.7 458.3,128.7 471.5,144.2 484.7,148.4 498.0,154.1 511.2,148.4 524.5,142.8 537.6,185.2 550.8,203.6 564.1,206.7 577.3,207.8" fill="none" stroke="#c42a40" stroke-width="0.9" stroke-opacity="0.42" stroke-dasharray="2.2 1"/>
<polyline points="326.0,205.3 339.2,203.8 352.5,190.7 365.7,173.3 378.9,171.7 392.2,169.1 405.4,161.1 418.6,132.7 431.8,137.7 445.1,137.4 458.3,163.8 471.5,169.6 484.7,171.5 498.0,151.8 511.2,169.3 524.5,175.6 537.6,185.6 550.8,200.2 564.1,201.8 577.3,204.0" fill="none" stroke="#2a6fc0" stroke-width="0.9" stroke-opacity="0.42" stroke-dasharray="2.2 1"/>
<polyline points="326.0,207.8 339.2,205.0 352.5,196.5 365.7,179.5 378.9,168.2 392.2,93.2 405.4,165.4 418.6,115.9 431.8,148.4 445.1,131.5 458.3,151.3 471.5,158.3 484.7,172.5 498.0,154.1 511.2,173.9 524.5,165.4 537.6,192.3 550.8,203.6 564.1,206.7 577.3,207.8" fill="none" stroke="#c42a40" stroke-width="0.9" stroke-opacity="0.42" stroke-dasharray="2.2 1"/>
<polyline points="326.0,205.5 339.2,202.7 352.5,189.8 365.7,175.1 378.9,173.5 392.2,166.6 405.4,173.7 418.6,144.9 431.8,119.3 445.1,154.1 458.3,168.1 471.5,175.6 484.7,168.2 498.0,171.2 511.2,174.3 524.5,177.5 537.6,195.2 550.8,202.1 564.1,204.5 577.3,202.4" fill="none" stroke="#2a6fc0" stroke-width="0.9" stroke-opacity="0.42" stroke-dasharray="2.2 1"/>
<polyline points="326.0,204.9 339.2,204.1 352.5,199.4 365.7,174.6 378.9,163.2 392.2,172.3 405.4,163.4 418.6,141.7 431.8,140.0 445.1,121.0 458.3,144.7 471.5,147.9 484.7,169.7 498.0,143.6 511.2,143.2 524.5,150.0 537.6,178.5 550.8,195.6 564.1,200.5 577.3,201.8" fill="none" stroke="#2a6fc0" stroke-width="0.9" stroke-opacity="0.42" stroke-dasharray="2.2 1"/>
<polyline points="326.0,202.7 339.2,202.4 352.5,200.1 365.7,198.1 378.9,177.2 392.2,168.2 405.4,165.9 418.6,148.4 431.8,142.6 445.1,145.4 458.3,149.7 471.5,151.9 484.7,156.1 498.0,177.9 511.2,161.7 524.5,174.4 537.6,168.4 550.8,197.2 564.1,202.0 577.3,205.2" fill="none" stroke="#c42a40" stroke-width="0.9" stroke-opacity="0.42" stroke-dasharray="2.2 1"/>
<polyline points="326.0,202.9 339.2,201.6 352.5,197.2 365.7,173.2 378.9,157.3 392.2,153.8 405.4,151.6 418.6,144.2 431.8,123.6 445.1,119.5 458.3,135.2 471.5,159.8 484.7,166.6 498.0,175.7 511.2,156.6 524.5,168.4 537.6,175.4 550.8,197.2 564.1,203.7 577.3,204.9" fill="none" stroke="#c42a40" stroke-width="0.9" stroke-opacity="0.42" stroke-dasharray="2.2 1"/>
<polyline points="326.0,206.0 339.2,205.4 352.5,204.5 365.7,191.5 378.9,182.1 392.2,184.9 405.4,182.7 418.6,174.3 431.8,147.3 445.1,159.7 458.3,160.3 471.5,167.4 484.7,172.9 498.0,169.5 511.2,165.9 524.5,170.1 537.6,189.5 550.8,202.5 564.1,204.9 577.3,204.1" fill="none" stroke="#2a6fc0" stroke-width="0.9" stroke-opacity="0.42" stroke-dasharray="2.2 1"/>
<polyline points="326.0,198.9 339.2,197.4 352.5,172.8 365.7,170.6 378.9,168.7 392.2,147.9 405.4,130.3 418.6,156.7 431.8,129.9 445.1,163.9 458.3,176.4 471.5,166.8 484.7,172.2 498.0,157.8 511.2,180.4 524.5,199.5 537.6,205.0 550.8,205.8 564.1,205.8 577.3,205.4" fill="none" stroke="#c42a40" stroke-width="0.9" stroke-opacity="0.42" stroke-dasharray="2.2 1"/>
<polyline points="326.0,207.8 339.2,204.3 352.5,188.0 365.7,140.0 378.9,120.2 392.2,131.5 405.4,108.9 418.6,128.7 431.8,94.7 445.1,117.3 458.3,123.0 471.5,134.3 484.7,140.0 498.0,134.3 511.2,145.6 524.5,128.7 537.6,179.5 550.8,202.1 564.1,206.4 577.3,207.8" fill="none" stroke="#2a6fc0" stroke-width="0.9" stroke-opacity="0.42" stroke-dasharray="2.2 1"/>
<polyline points="326.0,207.1 339.2,201.0 352.5,205.0 365.7,155.8 378.9,204.1 392.2,146.6 405.4,203.5 418.6,93.6 431.8,205.1 445.1,125.0 458.3,196.3 471.5,146.9 484.7,206.1 498.0,147.6 511.2,206.2 524.5,150.6 537.6,203.1 550.8,200.9 564.1,207.6 577.3,204.4" fill="none" stroke="#c42a40" stroke-width="0.9" stroke-opacity="0.42" stroke-dasharray="2.2 1"/>
<polyline points="326.0,204.2 339.2,201.3 352.5,182.1 365.7,140.6 378.9,153.5 392.2,162.0 405.4,146.0 418.6,137.7 431.8,111.6 445.1,126.8 458.3,148.6 471.5,155.1 484.7,160.2 498.0,143.0 511.2,152.4 524.5,143.8 537.6,184.3 550.8,201.0 564.1,203.0 577.3,199.5" fill="none" stroke="#2a6fc0" stroke-width="0.9" stroke-opacity="0.42" stroke-dasharray="2.2 1"/>
<polyline points="326.0,201.7 339.2,200.1 352.5,189.4 365.7,169.0 378.9,159.8 392.2,158.5 405.4,142.0 418.6,111.2 431.8,117.7 445.1,115.1 458.3,137.7 471.5,164.5 484.7,153.7 498.0,152.9 511.2,169.5 524.5,171.8 537.6,190.1 550.8,203.0 564.1,204.8 577.3,205.0" fill="none" stroke="#c42a40" stroke-width="0.9" stroke-opacity="0.42" stroke-dasharray="2.2 1"/>
<polyline points="326.0,207.8 339.2,205.0 352.5,193.7 365.7,165.4 378.9,161.2 392.2,151.3 405.4,140.0 418.6,123.0 431.8,101.8 445.1,82.0 458.3,123.0 471.5,140.0 484.7,158.3 498.0,154.1 511.2,162.6 524.5,151.3 537.6,185.2 550.8,202.1 564.1,206.4 577.3,207.8" fill="none" stroke="#2a6fc0" stroke-width="0.9" stroke-opacity="0.42" stroke-dasharray="2.2 1"/>
<polyline points="326.0,205.5 339.2,205.8 352.5,198.9 365.7,170.1 378.9,177.7 392.2,174.3 405.4,175.6 418.6,160.6 431.8,146.5 445.1,164.6 458.3,172.9 471.5,178.4 484.7,175.2 498.0,161.7 511.2,176.9 524.5,173.1 537.6,189.7 550.8,203.5 564.1,204.7 577.3,204.5" fill="none" stroke="#2a6fc0" stroke-width="0.9" stroke-opacity="0.42" stroke-dasharray="2.2 1"/>
<polyline points="326.0,205.6 339.2,205.2 352.5,205.3 365.7,203.7 378.9,177.8 392.2,176.8 405.4,175.3 418.6,173.4 431.8,172.0 445.1,144.9 458.3,155.8 471.5,153.8 484.7,163.1 498.0,177.6 511.2,159.7 524.5,162.1 537.6,171.5 550.8,195.6 564.1,198.0 577.3,201.4" fill="none" stroke="#2a6fc0" stroke-width="0.9" stroke-opacity="0.42" stroke-dasharray="2.2 1"/>
<polyline points="326.0,204.5 339.2,204.0 352.5,203.8 365.7,202.4 378.9,182.4 392.2,166.7 405.4,165.2 418.6,167.4 431.8,168.1 445.1,163.4 458.3,169.2 471.5,176.5 484.7,181.6 498.0,180.0 511.2,171.7 524.5,186.4 537.6,178.8 550.8,196.2 564.1,202.8 577.3,206.2" fill="none" stroke="#c42a40" stroke-width="0.9" stroke-opacity="0.42" stroke-dasharray="2.2 1"/>
<polyline points="326.0,205.4 339.2,203.9 352.5,197.9 365.7,176.7 378.9,173.8 392.2,156.5 405.4,167.0 418.6,155.2 431.8,137.8 445.1,165.6 458.3,163.1 471.5,166.4 484.7,176.5 498.0,147.4 511.2,175.2 524.5,166.5 537.6,185.4 550.8,201.9 564.1,202.2 577.3,204.4" fill="none" stroke="#2a6fc0" stroke-width="0.9" stroke-opacity="0.42" stroke-dasharray="2.2 1"/>
<polyline points="326.0,204.2 339.2,204.5 352.5,201.3 365.7,188.4 378.9,175.2 392.2,179.2 405.4,173.4 418.6,169.8 431.8,152.3 445.1,156.6 458.3,159.0 471.5,169.4 484.7,184.4 498.0,182.0 511.2,190.8 524.5,181.6 537.6,189.8 550.8,202.0 564.1,206.8 577.3,206.4" fill="none" stroke="#c42a40" stroke-width="0.9" stroke-opacity="0.42" stroke-dasharray="2.2 1"/>
<polyline points="326.0,199.8 339.2,202.0 352.5,194.4 365.7,149.6 378.9,146.0 392.2,139.6 405.4,152.5 418.6,123.1 431.8,114.3 445.1,123.7 458.3,144.2 471.5,152.9 484.7,163.6 498.0,142.8 511.2,163.6 524.5,155.9 537.6,181.7 550.8,202.4 564.1,205.6 577.3,204.1" fill="none" stroke="#c42a40" stroke-width="0.9" stroke-opacity="0.42" stroke-dasharray="2.2 1"/>
<polyline points="326.0,201.3 339.2,207.5 352.5,193.8 365.7,201.4 378.9,128.7 392.2,196.7 405.4,131.7 418.6,198.8 431.8,109.6 445.1,201.9 458.3,136.3 471.5,204.1 484.7,164.7 498.0,197.1 511.2,157.4 524.5,199.8 537.6,179.6 550.8,206.5 564.1,205.0 577.3,207.3" fill="none" stroke="#c42a40" stroke-width="0.9" stroke-opacity="0.42" stroke-dasharray="2.2 1"/>
<polyline points="326.0,203.2 339.2,200.2 352.5,184.0 365.7,166.3 378.9,165.0 392.2,156.6 405.4,141.0 418.6,161.4 431.8,143.3 445.1,168.9 458.3,177.5 471.5,175.9 484.7,178.7 498.0,179.2 511.2,172.1 524.5,190.6 537.6,201.6 550.8,205.2 564.1,205.6 577.3,205.8" fill="none" stroke="#c42a40" stroke-width="0.9" stroke-opacity="0.42" stroke-dasharray="2.2 1"/>
<polyline points="326.0,203.5 339.2,203.3 352.5,199.9 365.7,194.3 378.9,173.0 392.2,158.9 405.4,167.2 418.6,163.1 431.8,139.9 445.1,162.3 458.3,136.3 471.5,168.4 484.7,176.2 498.0,175.3 511.2,170.4 524.5,182.0 537.6,175.8 550.8,197.2 564.1,204.0 577.3,206.2" fill="none" stroke="#c42a40" stroke-width="0.9" stroke-opacity="0.42" stroke-dasharray="2.2 1"/>
<polyline points="326.0,207.8 339.2,205.0 352.5,192.3 365.7,148.4 378.9,137.1 392.2,115.9 405.4,128.7 418.6,120.2 431.8,108.9 445.1,134.3 458.3,137.1 471.5,128.7 484.7,148.4 498.0,140.0 511.2,134.3 524.5,123.0 537.6,182.4 550.8,202.1 564.1,206.7 577.3,207.8" fill="none" stroke="#2a6fc0" stroke-width="0.9" stroke-opacity="0.42" stroke-dasharray="2.2 1"/>
<polyline points="326.0,202.4 339.2,199.2 352.5,188.7 365.7,163.8 378.9,140.3 392.2,166.1 405.4,161.8 418.6,121.1 431.8,128.1 445.1,145.7 458.3,153.9 471.5,169.2 484.7,168.5 498.0,168.8 511.2,166.3 524.5,181.4 537.6,195.3 550.8,203.4 564.1,205.7 577.3,205.2" fill="none" stroke="#c42a40" stroke-width="0.9" stroke-opacity="0.42" stroke-dasharray="2.2 1"/>
<polyline points="326.0,207.6 339.2,201.0 352.5,207.1 365.7,160.3 378.9,204.6 392.2,149.7 405.4,205.2 418.6,103.8 431.8,201.3 445.1,121.3 458.3,205.6 471.5,148.6 484.7,205.7 498.0,153.9 511.2,205.0 524.5,160.4 537.6,206.1 550.8,201.4 564.1,207.2 577.3,204.8" fill="none" stroke="#c42a40" stroke-width="0.9" stroke-opacity="0.42" stroke-dasharray="2.2 1"/>
<polyline points="326.0,200.2 339.2,200.3 352.5,201.7 365.7,196.6 378.9,161.5 392.2,140.7 405.4,148.5 418.6,160.9 431.8,125.2 445.1,131.3 458.3,122.4 471.5,150.0 484.7,153.4 498.0,165.5 511.2,151.9 524.5,152.9 537.6,167.7 550.8,197.2 564.1,202.0 577.3,204.2" fill="none" stroke="#c42a40" stroke-width="0.9" stroke-opacity="0.42" stroke-dasharray="2.2 1"/>
<polyline points="326.0,206.1 339.2,205.7 352.5,201.3 365.7,184.1 378.9,178.5 392.2,175.3 405.4,175.1 418.6,157.8 431.8,146.3 445.1,175.5 458.3,167.4 471.5,166.9 484.7,186.6 498.0,179.8 511.2,179.9 524.5,182.2 537.6,193.2 550.8,204.3 564.1,204.3 577.3,205.2" fill="none" stroke="#2a6fc0" stroke-width="0.9" stroke-opacity="0.42" stroke-dasharray="2.2 1"/>
<polyline points="326.0,205.3 339.2,205.0 352.5,204.0 365.7,192.5 378.9,170.9 392.2,177.5 405.4,180.8 418.6,170.3 431.8,153.3 445.1,138.0 458.3,148.7 471.5,161.9 484.7,157.3 498.0,168.8 511.2,160.2 524.5,156.0 537.6,165.9 550.8,195.6 564.1,202.3 577.3,203.9" fill="none" stroke="#2a6fc0" stroke-width="0.9" stroke-opacity="0.42" stroke-dasharray="2.2 1"/>
<polyline points="326.0,207.8 339.2,204.3 352.5,192.3 365.7,107.5 378.9,113.1 392.2,113.1 405.4,128.7 418.6,123.0 431.8,137.1 445.1,128.7 458.3,148.4 471.5,154.1 484.7,165.4 498.0,161.2 511.2,171.1 524.5,165.4 537.6,190.8 550.8,203.6 564.1,206.7 577.3,207.8" fill="none" stroke="#c42a40" stroke-width="0.9" stroke-opacity="0.42" stroke-dasharray="2.2 1"/>
<polyline points="326.0,207.8 339.2,205.0 352.5,193.7 365.7,168.2 378.9,165.4 392.2,154.1 405.4,144.2 418.6,130.1 431.8,115.9 445.1,123.0 458.3,110.6 471.5,137.1 484.7,144.2 498.0,114.4 511.2,137.6 524.5,110.6 537.6,176.7 550.8,199.3 564.1,205.7 577.3,207.8" fill="none" stroke="#2a6fc0" stroke-width="0.9" stroke-opacity="0.42" stroke-dasharray="2.2 1"/>
<polyline points="326.0,196.2 339.2,199.0 352.5,193.7 365.7,143.4 378.9,190.3 392.2,166.3 405.4,181.9 418.6,146.2 431.8,158.3 445.1,152.7 458.3,160.3 471.5,157.5 484.7,168.0 498.0,153.2 511.2,161.3 524.5,136.1 537.6,168.5 550.8,200.7 564.1,203.5 577.3,203.5" fill="none" stroke="#000" stroke-width="3.1" stroke-linejoin="round"/>
<polyline points="326.0,202.6 339.2,202.6 352.5,197.0 365.7,172.0 378.9,158.2 392.2,161.0 405.4,160.0 418.6,136.0 431.8,130.2 445.1,141.0 458.3,153.0 471.5,163.0 484.7,175.7 498.0,164.0 511.2,172.5 524.5,169.4 537.6,189.2 550.8,202.5 564.1,205.5 577.3,205.5" fill="none" stroke="#b00c24" stroke-width="2.45" stroke-linejoin="round"/>
<polyline points="326.0,205.0 339.2,205.0 352.5,200.0 365.7,170.9 378.9,169.9 392.2,163.3 405.4,173.6 418.6,152.0 431.8,126.1 445.1,147.5 458.3,154.5 471.5,159.3 484.7,169.0 498.0,156.2 511.2,158.3 524.5,158.8 537.6,183.0 550.8,201.5 564.1,203.0 577.3,203.0" fill="none" stroke="#1a5aaa" stroke-width="2.5" stroke-linejoin="round"/>
</g>
<path d="M329,15 H570 M329,217 H570 M330,14 V218 M569,14 V218" fill="none" stroke="#9a9a9a" stroke-width="2"/>
<line x1="329.8" y1="217" x2="329.8" y2="218.6" stroke="#333" stroke-width="1.3"/>
<text x="323.20" y="229.30" textLength="13.20" lengthAdjust="spacingAndGlyphs" class="t" style="font-size:11.56px">30</text>
<line x1="363.9" y1="217" x2="363.9" y2="218.6" stroke="#333" stroke-width="1.3"/>
<text x="357.39" y="229.30" textLength="13.20" lengthAdjust="spacingAndGlyphs" class="t" style="font-size:11.56px">35</text>
<line x1="398.0" y1="217" x2="398.0" y2="218.6" stroke="#333" stroke-width="1.3"/>
<text x="391.57" y="229.30" textLength="12.95" lengthAdjust="spacingAndGlyphs" class="t" style="font-size:11.56px">40</text>
<line x1="432.1" y1="217" x2="432.1" y2="218.6" stroke="#333" stroke-width="1.3"/>
<text x="425.76" y="229.30" textLength="12.95" lengthAdjust="spacingAndGlyphs" class="t" style="font-size:11.56px">45</text>
<line x1="466.3" y1="217" x2="466.3" y2="218.6" stroke="#333" stroke-width="1.3"/>
<text x="459.69" y="229.30" textLength="13.20" lengthAdjust="spacingAndGlyphs" class="t" style="font-size:11.56px">50</text>
<line x1="500.4" y1="217" x2="500.4" y2="218.6" stroke="#333" stroke-width="1.3"/>
<text x="493.88" y="229.30" textLength="13.20" lengthAdjust="spacingAndGlyphs" class="t" style="font-size:11.56px">55</text>
<line x1="534.5" y1="217" x2="534.5" y2="218.6" stroke="#333" stroke-width="1.3"/>
<text x="527.81" y="229.30" textLength="13.20" lengthAdjust="spacingAndGlyphs" class="t" style="font-size:11.56px">60</text>
<line x1="568.6" y1="217" x2="568.6" y2="218.6" stroke="#333" stroke-width="1.3"/>
<text x="562.00" y="229.30" textLength="13.20" lengthAdjust="spacingAndGlyphs" class="t" style="font-size:11.56px">65</text>
<line x1="328.2" y1="207.8" x2="330" y2="207.8" stroke="#333" stroke-width="1.3"/>
<text x="318.90" y="212.00" textLength="7.00" lengthAdjust="spacingAndGlyphs" class="t" style="font-size:11.93px">0</text>
<line x1="328.2" y1="179.5" x2="330" y2="179.5" stroke="#333" stroke-width="1.3"/>
<text x="305.90" y="183.65" textLength="20.00" lengthAdjust="spacingAndGlyphs" class="t" style="font-size:11.93px">200</text>
<line x1="328.2" y1="151.3" x2="330" y2="151.3" stroke="#333" stroke-width="1.3"/>
<text x="306.15" y="155.56" textLength="19.75" lengthAdjust="spacingAndGlyphs" class="t" style="font-size:11.93px">400</text>
<line x1="328.2" y1="123.0" x2="330" y2="123.0" stroke="#333" stroke-width="1.3"/>
<text x="305.90" y="127.21" textLength="20.00" lengthAdjust="spacingAndGlyphs" class="t" style="font-size:11.93px">600</text>
<line x1="328.2" y1="94.7" x2="330" y2="94.7" stroke="#333" stroke-width="1.3"/>
<text x="305.90" y="98.87" textLength="20.00" lengthAdjust="spacingAndGlyphs" class="t" style="font-size:11.93px">800</text>
<line x1="328.2" y1="66.5" x2="330" y2="66.5" stroke="#333" stroke-width="1.3"/>
<text x="298.90" y="70.77" textLength="27.00" lengthAdjust="spacingAndGlyphs" class="t" style="font-size:11.93px">1000</text>
<line x1="328.2" y1="38.2" x2="330" y2="38.2" stroke="#333" stroke-width="1.3"/>
<text x="298.90" y="42.42" textLength="27.00" lengthAdjust="spacingAndGlyphs" class="t" style="font-size:11.93px">1200</text>
<text x="154.80" y="11.00" textLength="16.50" lengthAdjust="spacingAndGlyphs" class="t" style="font-size:11.57px">ND</text>
<text x="440.75" y="11.00" textLength="17.05" lengthAdjust="spacingAndGlyphs" class="t" style="font-size:11.57px">DJF</text>
<text x="28.60" y="8.25" textLength="10.75" lengthAdjust="spacingAndGlyphs" class="t" style="font-size:10.93px">a)</text>
<text x="314.25" y="7.95" textLength="11.20" lengthAdjust="spacingAndGlyphs" class="t" style="font-size:10.39px">b)</text>
<text transform="translate(9.00,145.30) rotate(-90)" textLength="59.30" lengthAdjust="spacingAndGlyphs" class="t" style="font-size:10.65px">Occurrence</text>
<text x="91.10" y="241.95" textLength="144.05" lengthAdjust="spacingAndGlyphs" class="t" style="font-size:10.93px">Daily jet latitude (degrees)</text>
<text x="377.00" y="241.95" textLength="144.05" lengthAdjust="spacingAndGlyphs" class="t" style="font-size:10.93px">Daily jet latitude (degrees)</text>
<rect x="196.6" y="19.8" width="80" height="52" rx="2" ry="2" fill="#fff" fill-opacity="0.8" stroke="#d0d0d0" stroke-width="0.8"/>
<line x1="199.6" y1="28.6" x2="224" y2="28.6" stroke="#000" stroke-width="2.6"/>
<text x="230.80" y="32.40" textLength="41.90" lengthAdjust="spacingAndGlyphs" class="t" style="font-size:11.57px">20CRv3</text>
<line x1="199.6" y1="45.05" x2="224" y2="45.05" stroke="#b00c24" stroke-width="2.6"/>
<text x="230.90" y="48.80" textLength="32.80" lengthAdjust="spacingAndGlyphs" class="t" style="font-size:11.57px">CMIP5</text>
<line x1="199.6" y1="61.2" x2="224" y2="61.2" stroke="#1a5aaa" stroke-width="2.6"/>
<text x="230.90" y="64.90" textLength="33.50" lengthAdjust="spacingAndGlyphs" class="t" style="font-size:11.93px">CMIP6</text>
</svg>
</body></html>
